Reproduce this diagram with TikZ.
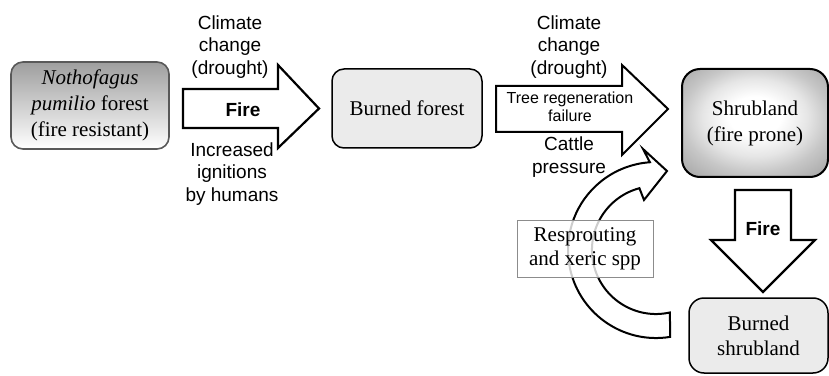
\documentclass[tikz,border=0pt]{standalone}
\usepackage{fontspec}
\setmainfont{Liberation Serif}
\newfontfamily\sansf{Liberation Sans}
\pgfdeclareradialshading{shrubshade}{\pgfpoint{0bp}{4bp}}{color(0bp)=(white); color(9bp)=(white); color(18bp)=(black!10); color(25bp)=(black!22); color(36bp)=(black!36); color(50bp)=(black!48)}
\begin{document}
\begin{tikzpicture}[x=1pt,y=1pt,
  box/.style={rounded corners=12pt, align=center, inner sep=0pt,
    font=\fontsize{21}{26}\selectfont},
  blk/.style={draw=black, line width=2.2pt, fill=white, line join=miter},
  lbl/.style={align=center, inner sep=0pt, font=\sansf\fontsize{19}{22.5}\selectfont},
  firelbl/.style={inner sep=0pt, font=\sansf\bfseries\fontsize{19}{22}\selectfont}]
\useasboundingbox (0,0) rectangle (829,375);

% boxes
\node[box, draw=black!65, line width=1.6pt, top color=black!38, bottom color=white,
  minimum width=158pt, minimum height=87pt] (forest) at (90,269.5)
  {\textit{Nothofagus}\\\textit{pumilio} forest\\(fire resistant)};
\node[box, draw=black, line width=1.5pt, fill=black!8,
  minimum width=150pt, minimum height=79pt] (burned) at (407,266.5) {Burned forest};
\node[box, rounded corners=18pt, draw=black, line width=2pt, shading=shrubshade,
  minimum width=146pt, minimum height=108pt] (shrub) at (755,252)
  {Shrubland\\(fire prone)};
\node[box, rounded corners=15pt, draw=black, line width=1.5pt, fill=black!8,
  minimum width=139pt, minimum height=75pt, font=\fontsize{21}{25}\selectfont] (bshrub) at (758.5,39.5)
  {Burned\\shrubland};

% block arrows
\draw[blk] (183,286) -- (278,286) -- (278,310) -- (319,266.5) -- (278,227) -- (278,247) -- (183,247) -- cycle;
\draw[blk, line width=2pt] (496,289) -- (622,289) -- (622,310) -- (668,266) -- (622,220) -- (622,243) -- (496,243) -- cycle;
\draw[blk, line width=2.2pt] (735,185) -- (791,185) -- (791,135) -- (815,135) -- (763,83) -- (711,135) -- (735,135) -- cycle;
\draw[blk, line width=2pt] (670.1,38.1) arc[start angle=-80.8, end angle=-266, radius=88pt]
  -- (643,226) -- (667,204) -- (644,175) -- (639.4,186.8)
  arc[start angle=-255, end angle=-77.4, radius=64pt] -- cycle;

% resprouting box
\node[box, rounded corners=0pt, draw=black!45, line width=0.8pt, fill=white, fill opacity=0.8, text opacity=1,
  minimum width=136pt, minimum height=57pt, font=\fontsize{21}{24}\selectfont] (resp) at (585,126.5)
  {Resprouting\\and xeric spp};

% labels
\node[lbl] (cc1) at (230,328) {Climate\\change\\(drought)};
\node[lbl] (ign) at (232,201) {Increased\\ignitions\\by humans};
\node[firelbl] (fire1) at (243,265) {Fire};
\node[lbl] (cc2) at (569,328) {Climate\\change\\(drought)};
\node[lbl, font=\sansf\fontsize{16}{17.5}\selectfont] (tree) at (570,268) {Tree regeneration\\failure};
\node[lbl] (cattle) at (569,218) {Cattle\\pressure};
\node[firelbl] (fire2) at (763,146) {Fire};
\end{tikzpicture}
\end{document}
